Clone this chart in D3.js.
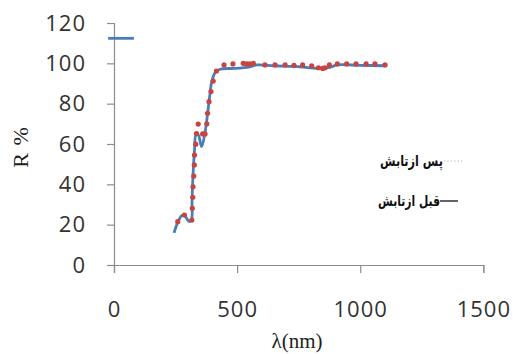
<!DOCTYPE html>
<html><head><meta charset="utf-8">
<script src="https://cdn.jsdelivr.net/npm/d3@7"></script>
<style>body{margin:0;background:#fff}svg{display:block}</style>
</head><body>
<svg id="c" width="513" height="354"></svg>
<script>
// before irradiation (blue smoothed line)
const beforeX = [244,256,276,288,305,315,317,321,327,333,342,356,370,381,390,397,413,437,491,552,580,650,755,823,877,905,1000,1101];
const beforeY = [15.9,20.3,24.5,24.3,21.5,22.8,32,44.6,57,64.5,64.5,58.7,66,76,85,90.9,95.8,97.2,97.5,98.3,99.2,98.8,98.3,97.5,98,99.2,99,98.8];
// after irradiation (red dotted series)
const afterX = [259,286,316,318,320,321,324,326,327,332,335,342,360,370,377,380,386,394,403,416,447,483,525,539,552,566,613,654,695,731,766,803,830,848,857,875,907,945,983,1024,1060,1101];
const afterY = [21.5,24.8,22.3,28.1,33.6,38.8,44.1,49.6,54.5,59.9,65.2,69.9,65,65,70,75.2,81,86,91.2,96.2,99.2,99.7,100,99.7,99.7,100,99.2,99.2,99.2,99,99.2,98.8,97.8,97.5,97.8,99.2,99.7,99.7,99.7,99.7,99.7,99.2];
// stray short blue segment near the top
const strayX = [-24,81];
const strayY = [112.4,112.4];
const xTicks = [0,500,1000,1500];
const yTicks = [0,20,40,60,80,100,120];
const legendLabels = ["پس ازتابش","قبل ازتابش"];
const xTitle = "λ(nm)";
const yTitle = "R %";

const svg = d3.select("#c");
const x = d3.scaleLinear().domain([0,1500]).range([114,483.3]);
const y = d3.scaleLinear().domain([0,120]).range([265,23]);
const axisCol = "#8c8c8c";

const xa = svg.append("g").attr("transform","translate(0,265)")
  .call(d3.axisBottom(x).tickValues(xTicks).tickSize(8).tickPadding(28).tickFormat(d3.format("d")));
const ya = svg.append("g").attr("transform","translate(114,0)")
  .call(d3.axisLeft(y).tickValues(yTicks).tickSize(7).tickPadding(21).tickFormat(d3.format("d")));
[xa,ya].forEach(a=>{
  a.select(".domain").attr("stroke",axisCol).attr("stroke-width",1.2);
  a.selectAll(".tick line").attr("stroke",axisCol).attr("stroke-width",1.2);
  a.selectAll(".tick text").attr("fill","#333").style("font-family","'Open Sans'").style("font-size","22px").style("letter-spacing","1px");
});

const line = d3.line().x(d=>x(d[0])).y(d=>y(d[1]));
const beforeData = beforeX.map((v,i)=>[v,beforeY[i]]);
svg.append("path").datum(beforeData)
  .attr("d", line.curve(d3.curveCatmullRom.alpha(0.5)))
  .attr("fill","none").attr("stroke","#4a7ebb").attr("stroke-width",2.8).attr("stroke-linejoin","round");

const strayData = strayX.map((v,i)=>[v,strayY[i]]);
svg.append("path").datum(strayData)
  .attr("d", d3.line().x(d=>x(d[0])).y(d=>y(d[1])))
  .attr("fill","none").attr("stroke","#4a7ebb").attr("stroke-width",2.8);

const afterData = afterX.map((v,i)=>[v,afterY[i]]);
svg.append("g").selectAll("circle").data(afterData).join("circle")
  .attr("cx",d=>x(d[0])).attr("cy",d=>y(d[1])).attr("r",2.6).attr("fill","#c9443f");

// legend
const leg = svg.append("g");
leg.append("line").attr("x1",444).attr("x2",462).attr("y1",161).attr("y2",161)
  .attr("stroke","#b0b0b0").attr("stroke-width",1.2).attr("stroke-dasharray","1.2,2.2");
leg.append("line").attr("x1",440).attr("x2",458).attr("y1",201).attr("y2",201)
  .attr("stroke","#222").attr("stroke-width",1.4);
leg.append("text").attr("x",443).attr("y",166).attr("text-anchor","end")
  .attr("textLength",63).attr("lengthAdjust","spacingAndGlyphs")
  .style("font-family","'DejaVu Sans'").style("font-size","15px").style("font-weight","bold").attr("fill","#111")
  .text(legendLabels[0]);
leg.append("text").attr("x",440).attr("y",206).attr("text-anchor","end")
  .attr("textLength",62).attr("lengthAdjust","spacingAndGlyphs")
  .style("font-family","'DejaVu Sans'").style("font-size","15px").style("font-weight","bold").attr("fill","#111")
  .text(legendLabels[1]);

svg.append("text").attr("x",297).attr("y",348).attr("text-anchor","middle")
  .style("font-family","'Liberation Serif'").style("font-size","21px").attr("fill","#222").text(xTitle);
svg.append("text").attr("transform","translate(28,147) rotate(-90)").attr("text-anchor","middle")
  .style("font-family","'Liberation Serif'").style("font-size","22px").style("letter-spacing","1px").attr("fill","#222").text(yTitle);
</script>
</body></html>
